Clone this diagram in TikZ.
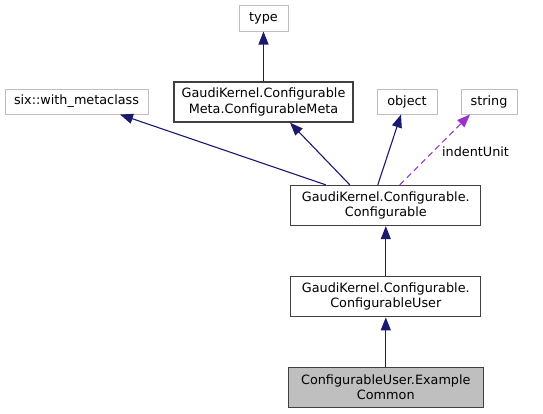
\documentclass[tikz,border=0pt]{standalone}
\usepackage{fontspec}
\setmainfont{DejaVu Sans}
\usetikzlibrary{arrows.meta}
\definecolor{edgeblue}{HTML}{191970}
\definecolor{greyline}{HTML}{BFBFBF}
\definecolor{darkline}{HTML}{404040}
\definecolor{orchid}{HTML}{9A32CD}
\begin{document}
\begin{tikzpicture}[x=1pt,y=-1pt,
  every node/.style={font=\fontsize{12.8}{15.5}\selectfont, inner sep=0pt, align=center},
  extbox/.style={draw=greyline, line width=1pt, fill=white},
  clsbox/.style={draw=darkline, line width=1.3pt, fill=white},
  curbox/.style={draw=darkline, line width=1.3pt, fill=greyline},
  inh/.style={draw=edgeblue, line width=1.1pt, -{Triangle[length=13pt,width=10pt]}},
  usage/.style={draw=orchid, line width=1.1pt, dashed, dash pattern=on 6pt off 4pt, -{Triangle[length=13pt,width=10pt]}}]
\useasboundingbox (0,0) rectangle (543,413);
\node[extbox, minimum width=49pt, minimum height=26pt] (type) at (263.5,18) {type};
\node[extbox, minimum width=143pt, minimum height=25pt] (six) at (76.5,101.5) {six::with\_metaclass};
\node[clsbox, minimum width=179pt, minimum height=40pt] (meta) at (263.5,102) {GaudiKernel.Configurable\\Meta.ConfigurableMeta};
\node[extbox, minimum width=60pt, minimum height=25pt] (object) at (407,101.5) {object};
\node[extbox, minimum width=56pt, minimum height=25pt] (string) at (489,101.5) {string};
\node[clsbox, minimum width=190pt, minimum height=40pt] (conf) at (385.8,205.5) {GaudiKernel.Configurable.\\Configurable};
\node[clsbox, minimum width=190pt, minimum height=40pt] (user) at (385.8,296.7) {GaudiKernel.Configurable.\\ConfigurableUser};
\node[curbox, minimum width=195pt, minimum height=40pt] (ex) at (385.8,387.3) {ConfigurableUser.Example\\Common};
\draw[inh] (meta.north) -- (type.south);
\draw[inh] ([xshift=-60pt]conf.north) -- ([xshift=43.5pt]six.south);
\draw[inh] ([xshift=-36pt]conf.north) -- ([xshift=26.5pt]meta.south);
\draw[inh] ([xshift=-8pt]conf.north) -- ([xshift=-6pt]object.south);
\draw[usage] ([xshift=14pt]conf.north) -- node[pos=0.467, anchor=west, xshift=8pt, fill=white, inner sep=1pt] (lbl) {indentUnit} ([xshift=-19pt]string.south);
\draw[inh] (user.north) -- (conf.south);
\draw[inh] (ex.north) -- (user.south);
\end{tikzpicture}
\end{document}
